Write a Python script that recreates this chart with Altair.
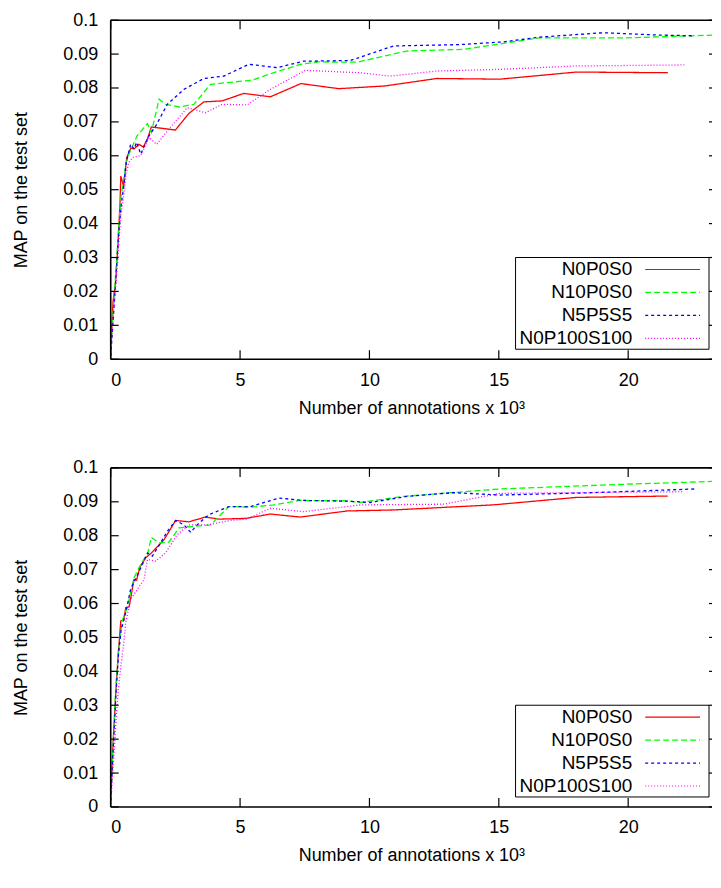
import altair as alt
import pandas as pd

SERIES = ["N0P0S0", "N10P0S0", "N5P5S5", "N0P100S100"]
COLORS = ["#ff0000", "#00ff00", "#0000ff", "#ff00ff"]
DASHES = [[1, 0], [6, 3], [3, 3], [1, 2]]

X_TITLE = "Number of annotations x 10³"
Y_TITLE = "MAP on the test set"
X_TICKS = [0, 5, 10, 15, 20]
Y_TICKS = [0, 0.01, 0.02, 0.03, 0.04, 0.05, 0.06, 0.07, 0.08, 0.09, 0.1]

# ---------------- top panel ----------------
top_red_x = [0, 0.09, 0.19, 0.28, 0.36, 0.39, 0.5, 0.62, 0.78, 0.9, 1.09, 1.26, 1.42, 1.57, 2.5, 3.02, 3.6, 4.31, 5.14, 6.17, 7.35, 8.81, 10.6, 12.6, 15.04, 18.0, 21.53]
top_red_y = [0.003, 0.017, 0.023, 0.034, 0.046, 0.054, 0.051, 0.0595, 0.0623, 0.062, 0.0634, 0.0626, 0.065, 0.0685, 0.0676, 0.0725, 0.0759, 0.0762, 0.0784, 0.0774, 0.0813, 0.0798, 0.0806, 0.0828, 0.0826, 0.0847, 0.0845]

top_green_x = [0, 0.1, 0.2, 0.3, 0.4, 0.5, 0.6, 0.71, 0.85, 1.03, 1.42, 1.57, 1.87, 2.12, 2.64, 3.22, 3.86, 5.46, 6.3, 7.35, 8.04, 9.13, 9.51, 11.44, 13.63, 15.04, 16.58, 19.93, 22.5, 23.24]
top_green_y = [0.002, 0.015, 0.026, 0.038, 0.048, 0.053, 0.058, 0.0605, 0.063, 0.066, 0.0695, 0.0669, 0.0767, 0.0752, 0.0744, 0.0752, 0.0811, 0.0823, 0.0845, 0.087, 0.0877, 0.0876, 0.0876, 0.0909, 0.0914, 0.093, 0.0948, 0.0948, 0.0954, 0.0956]

top_blue_x = [0, 0.1, 0.2, 0.3, 0.4, 0.5, 0.6, 0.77, 0.9, 1.0, 1.16, 1.48, 1.74, 2.19, 2.83, 3.6, 4.37, 5.34, 6.43, 7.46, 9.26, 10.93, 13.5, 15.17, 16.58, 19.03, 21.2, 22.5]
top_blue_y = [0.001, 0.012, 0.024, 0.036, 0.045, 0.051, 0.058, 0.0634, 0.062, 0.064, 0.0605, 0.0659, 0.0688, 0.0752, 0.0796, 0.0828, 0.0835, 0.087, 0.086, 0.0879, 0.0881, 0.0924, 0.0928, 0.0936, 0.095, 0.0963, 0.0956, 0.0954]

top_mag_x = [0, 0.1, 0.2, 0.3, 0.4, 0.5, 0.6, 0.7, 0.84, 1.16, 1.48, 1.78, 2.25, 2.96, 3.66, 4.31, 5.27, 6.17, 7.52, 9.64, 10.8, 12.6, 15.04, 18.0, 22.17]
top_mag_y = [0.002, 0.013, 0.022, 0.033, 0.043, 0.048, 0.055, 0.058, 0.0595, 0.06, 0.0654, 0.0634, 0.0679, 0.0742, 0.0727, 0.0752, 0.075, 0.0796, 0.0852, 0.0845, 0.0835, 0.085, 0.0855, 0.0865, 0.0868]

# ---------------- bottom panel ----------------
bot_red_x = [0, 0.1, 0.2, 0.3, 0.39, 0.5, 0.58, 0.71, 0.9, 1.0, 1.13, 1.35, 1.57, 2.06, 2.51, 3.02, 3.66, 4.18, 5.21, 6.17, 7.33, 9.13, 10.93, 14.79, 18.0, 21.53]
bot_red_y = [0.003, 0.02, 0.034, 0.046, 0.0549, 0.055, 0.0588, 0.059, 0.0671, 0.0669, 0.0708, 0.0735, 0.0749, 0.0788, 0.0845, 0.0841, 0.0855, 0.0849, 0.0851, 0.0864, 0.0855, 0.0873, 0.0876, 0.0891, 0.0913, 0.0917]

bot_green_x = [0, 0.1, 0.2, 0.3, 0.45, 0.6, 0.71, 0.9, 1.09, 1.29, 1.42, 1.57, 1.87, 2.25, 2.64, 3.22, 3.86, 4.57, 5.4, 6.3, 7.33, 9.13, 9.64, 11.31, 15.04, 19.93, 23.24]
bot_green_y = [0.002, 0.02, 0.036, 0.046, 0.055, 0.058, 0.0612, 0.0676, 0.0705, 0.0732, 0.0744, 0.0795, 0.0779, 0.0781, 0.0823, 0.0828, 0.0832, 0.0886, 0.0884, 0.0891, 0.0904, 0.0903, 0.0898, 0.0916, 0.0938, 0.0952, 0.096]

bot_blue_x = [0, 0.1, 0.2, 0.3, 0.4, 0.5, 0.6, 0.77, 1.16, 1.42, 1.61, 1.93, 2.19, 2.51, 2.83, 3.09, 3.34, 3.79, 4.57, 5.4, 6.5, 7.46, 9.13, 10.03, 11.44, 13.24, 15.04, 18.64, 22.63]
bot_blue_y = [0.002, 0.018, 0.033, 0.045, 0.052, 0.055, 0.058, 0.0642, 0.0705, 0.0749, 0.074, 0.0779, 0.0813, 0.0845, 0.0832, 0.081, 0.0832, 0.0862, 0.0886, 0.0886, 0.0911, 0.0904, 0.0902, 0.0898, 0.0916, 0.0927, 0.092, 0.0927, 0.0938]

bot_mag_x = [0, 0.1, 0.2, 0.3, 0.4, 0.5, 0.58, 0.77, 1.03, 1.29, 1.42, 1.74, 2.12, 2.57, 3.02, 3.73, 4.63, 5.27, 6.17, 7.46, 9.13, 9.64, 12.86, 15.04, 22.17]
bot_mag_y = [0.001, 0.012, 0.025, 0.035, 0.042, 0.048, 0.0544, 0.0612, 0.0642, 0.0671, 0.073, 0.0725, 0.0749, 0.0803, 0.0832, 0.0832, 0.0845, 0.0849, 0.0881, 0.0871, 0.0886, 0.0891, 0.0893, 0.0925, 0.093]

W, H = 603, 340
X_MAX = 23.24
FONT = "Liberation Sans"


def make_df(pairs):
    rows = []
    for name, (xs, ys) in zip(SERIES, pairs):
        for i, (a, b) in enumerate(zip(xs, ys)):
            rows.append({"series": name, "x": a, "v": b, "i": i})
    return pd.DataFrame(rows)


def panel(pairs):
    df = make_df(pairs)
    xs = alt.Scale(domain=[0, X_MAX], nice=False, zero=False)
    ys = alt.Scale(domain=[0, 0.1], nice=False)
    xax = alt.Axis(values=X_TICKS, format="d", title=X_TITLE, labelPadding=12, titlePadding=10)
    yax = alt.Axis(values=Y_TICKS, format="~g", title=Y_TITLE, labelPadding=13, titlePadding=32)
    lines = alt.Chart(df).mark_line(strokeWidth=1.3, clip=True).encode(
        x=alt.X("x:Q", scale=xs, axis=xax),
        y=alt.Y("v:Q", scale=ys, axis=yax),
        color=alt.Color("series:N", scale=alt.Scale(domain=SERIES, range=COLORS), legend=None),
        strokeDash=alt.StrokeDash("series:N", scale=alt.Scale(domain=SERIES, range=DASHES), legend=None),
        order="i:Q",
    )
    xt = pd.DataFrame({"x": X_TICKS})
    yt = pd.DataFrame({"v": Y_TICKS})
    tick_layers = [
        alt.Chart(xt).mark_rule(color="black", strokeWidth=1.2).encode(
            x=alt.X("x:Q", scale=xs, axis=xax), y=alt.value(H), y2=alt.value(H - 9)),
        alt.Chart(xt).mark_rule(color="black", strokeWidth=1.2).encode(
            x=alt.X("x:Q", scale=xs, axis=xax), y=alt.value(0), y2=alt.value(9)),
        alt.Chart(yt).mark_rule(color="black", strokeWidth=1.2).encode(
            y=alt.Y("v:Q", scale=ys, axis=yax), x=alt.value(0), x2=alt.value(8)),
        alt.Chart(yt).mark_rule(color="black", strokeWidth=1.2).encode(
            y=alt.Y("v:Q", scale=ys, axis=yax), x=alt.value(W - 3), x2=alt.value(W)),
    ]
    one = pd.DataFrame({"a": [0]})
    border = [
        alt.Chart(one).mark_rule(color="black", strokeWidth=1.6).encode(
            x=alt.value(0), x2=alt.value(W), y=alt.value(0)),
        alt.Chart(one).mark_rule(color="black", strokeWidth=1.6).encode(
            x=alt.value(0), x2=alt.value(W), y=alt.value(H)),
        alt.Chart(one).mark_rule(color="black", strokeWidth=1.6).encode(
            x=alt.value(0), y=alt.value(0), y2=alt.value(H)),
    ]
    box = alt.Chart(one).mark_rect(fill="white", stroke="black", strokeWidth=1).encode(
        x=alt.value(406), x2=alt.value(600), y=alt.value(H - 102), y2=alt.value(H - 10))
    leg = [box]
    for k, name in enumerate(SERIES):
        ry = H - 90 + k * 23
        d = pd.DataFrame({"series": [name]})
        leg.append(alt.Chart(d).mark_text(align="right", baseline="middle", font=FONT,
                                          fontSize=19, color="black").encode(
            text="series:N", x=alt.value(523), y=alt.value(ry)))
        leg.append(alt.Chart(d).mark_rule(color=COLORS[k], strokeWidth=1.2,
                                          strokeDash=DASHES[k]).encode(
            x=alt.value(536), x2=alt.value(591), y=alt.value(ry)))
    return alt.layer(lines, *tick_layers, *border, *leg).properties(width=W, height=H)


top = panel([(top_red_x, top_red_y), (top_green_x, top_green_y),
             (top_blue_x, top_blue_y), (top_mag_x, top_mag_y)])
bot = panel([(bot_red_x, bot_red_y), (bot_green_x, bot_green_y),
             (bot_blue_x, bot_blue_y), (bot_mag_x, bot_mag_y)])

chart = alt.vconcat(top, bot, spacing=42).properties(
    padding={"left": 4, "top": 2, "right": 0, "bottom": 0}
).configure_view(stroke="transparent", strokeWidth=0).configure_axis(
    domain=False, ticks=False, grid=False,
    labelFont=FONT, labelFontSize=18, labelColor="black",
    titleFont=FONT, titleFontSize=18, titleFontWeight="normal", titleColor="black",
)

chart.save("out.html", embed_options={"renderer": "svg", "actions": False})
